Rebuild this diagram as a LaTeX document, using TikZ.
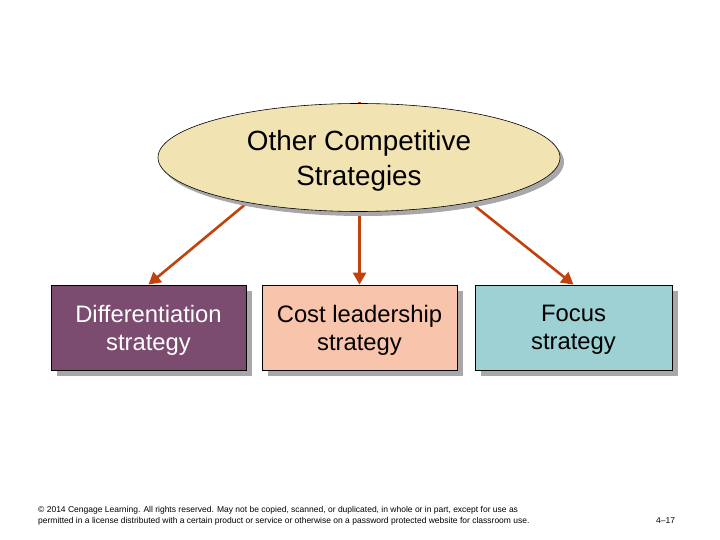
\documentclass[tikz,border=0pt]{standalone}
\usepackage{fontspec}
\setmainfont{Liberation Sans}
\usetikzlibrary{shapes.geometric,arrows.meta,shadows}
\definecolor{ellfill}{HTML}{F2E3B3}
\definecolor{shadowgray}{HTML}{A8A8AA}
\definecolor{arrowred}{HTML}{C2410C}
\definecolor{purplebox}{HTML}{7B4C70}
\definecolor{peachbox}{HTML}{F9C4AC}
\definecolor{tealbox}{HTML}{9DD1D4}
\tikzset{
  stratbox/.style={draw=black, line width=0.8pt, minimum width=195pt, minimum height=85pt,
    align=center, font=\fontsize{23.8}{28}\selectfont, inner sep=0pt, text depth=-3pt,
    drop shadow={shadow xshift=6pt, shadow yshift=-6pt, fill=shadowgray, opacity=1}},
  linkarrow/.style={draw=arrowred, line width=2.6pt, -{Triangle[length=12pt,width=13pt]}},
  foot/.style={font=\fontsize{8.5}{11}\selectfont, anchor=north west, align=left, inner sep=0pt}
}
\begin{document}
\begin{tikzpicture}[x=1pt,y=-1pt]
\useasboundingbox (0,0) rectangle (720,540);
% boxes
\node[stratbox, fill=purplebox, text=white] (diff) at (148.5,327.5) {Differentiation\\strategy};
\node[stratbox, fill=peachbox] (cost) at (359.5,327.5) {Cost leadership\\strategy};
\node[stratbox, fill=tealbox, minimum width=197pt] (focus) at (573.5,327.5) {Focus\\strategy};
\coordinate (topstub) at (cost.north |- 0,102);
% ellipse node (for anchors)
\node[ellipse, minimum width=402pt, minimum height=108pt, inner sep=0pt] (oth) at (359,157.5) {};
% arrows
\draw[linkarrow] (oth.-158) -- (diff.north);
\draw[linkarrow] (topstub) -- (cost.north);
\draw[linkarrow] (oth.-22) -- (focus.north);
% ellipse shadow and body
\fill[shadowgray] (363,162) ellipse [x radius=201, y radius=54];
\node[ellipse, draw=black, line width=0.6pt, fill=ellfill, minimum width=402pt, minimum height=108pt,
  inner sep=0pt, align=center, text depth=-6pt, font=\fontsize{27.8}{35}\selectfont] (othtxt) at (359,157.5) {Other Competitive\\Strategies};
% footer
\node[foot] (c1) at (38,506) {© 2014 Cengage Learning. All rights reserved. May not be copied, scanned, or duplicated, in whole or in part, except for use as\\permitted in a license distributed with a certain product or service or otherwise on a password protected website for classroom use.};
\node[foot] (pg) at (656,517) {4–17};
\end{tikzpicture}
\end{document}
